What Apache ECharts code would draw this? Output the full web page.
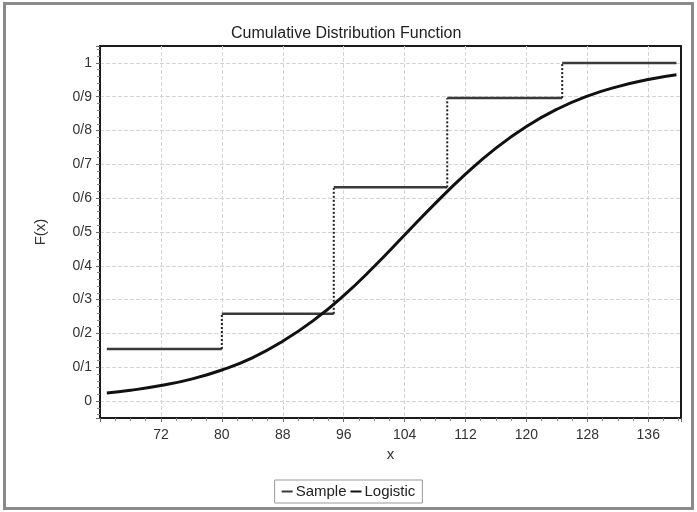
<!DOCTYPE html>
<html>
<head>
<meta charset="utf-8">
<script src="https://cdn.jsdelivr.net/npm/echarts@6/dist/echarts.min.js"></script>
<style>
  html, body { margin: 0; padding: 0; background: #fff; }
  #chart { position: absolute; left: 0; top: 0; width: 697px; height: 512px; }
  #frame { position: absolute; left: 3px; top: 2px; width: 691px; height: 508px;
    box-sizing: border-box; border: 3px solid #8a8a8a; pointer-events: none; }
</style>
</head>
<body>
<div id="chart"></div>
<div id="frame"></div>
<script>
// empirical step function (sample CDF)
var stepX = [64.9, 80, 94.7, 109.6, 124.7, 139.7];
var stepY = [0.154, 0.258, 0.632, 0.896, 1.0];

// logistic CDF
var curveX = [64.9, 68, 72, 76, 80, 84, 88, 92, 96, 100, 104, 108, 112, 116, 120, 124, 128, 132, 136, 139.7];
var curveY = [0.024, 0.032, 0.046, 0.065, 0.092, 0.128, 0.177, 0.238, 0.312, 0.398, 0.491, 0.584, 0.671, 0.748, 0.812, 0.863, 0.902, 0.930, 0.951, 0.965];

var xTicks = [72, 80, 88, 96, 104, 112, 120, 128, 136];

var series = [];

for (var i = 0; i < stepY.length; i++) {
  series.push({
    name: 'Sample',
    type: 'line',
    symbol: 'none',
    silent: true,
    itemStyle: { color: '#3a3a3a' },
    lineStyle: { color: '#3a3a3a', width: 2.5 },
    data: [[stepX[i], stepY[i]], [stepX[i + 1], stepY[i]]]
  });
  if (i < stepY.length - 1) {
    series.push({
      name: 'jump',
      type: 'line',
      symbol: 'none',
      silent: true,
      lineStyle: { color: '#222', width: 2, type: [2, 2] },
      data: [[stepX[i + 1], stepY[i]], [stepX[i + 1], stepY[i + 1]]]
    });
  }
}

series.push({
  name: 'Logistic',
  type: 'line',
  symbol: 'none',
  smooth: true,
  itemStyle: { color: '#111' },
  lineStyle: { color: '#111', width: 3 },
  data: curveX.map(function (x, k) { return [x, curveY[k]]; })
});

var chart = echarts.init(document.getElementById('chart'));
chart.setOption({
  animation: false,
  textStyle: { fontFamily: 'Liberation Sans, Arial, sans-serif' },
  title: {
    text: 'Cumulative Distribution Function',
    left: 226,
    top: 21,
    textStyle: { fontSize: 16, fontWeight: 'normal', color: '#222' }
  },
  legend: {
    data: ['Sample', 'Logistic'],
    bottom: 9,
    left: 'center',
    icon: 'rect',
    itemWidth: 11,
    itemHeight: 2,
    itemGap: 4,
    padding: [4, 7],
    borderColor: '#999',
    borderWidth: 1,
    borderRadius: 0,
    textStyle: { fontSize: 15, color: '#222', padding: [0, 0, 0, -2] }
  },
  grid: {
    left: 100,
    right: 16,
    top: 46,
    bottom: 94,
    show: true,
    borderColor: '#1a1a1a',
    borderWidth: 2
  },
  xAxis: {
    type: 'value',
    min: 64,
    max: 140.3,
    interval: 8,
    name: 'x',
    nameLocation: 'middle',
    nameGap: 28,
    nameTextStyle: { fontSize: 15, color: '#333' },
    axisLine: { show: true, onZero: false, lineStyle: { color: '#1a1a1a', width: 2 } },
    axisTick: { show: true, length: 4, lineStyle: { color: '#666' } },
    minorTick: { show: true, splitNumber: 4, length: 3, lineStyle: { color: '#888' } },
    axisLabel: {
      fontSize: 14, color: '#333', margin: 10,
      formatter: function (v) { return xTicks.indexOf(v) >= 0 ? String(v) : ''; }
    },
    splitLine: {
      show: true, showMinLine: false, showMaxLine: false,
      lineStyle: { color: '#d4d4d4', type: 'dashed', width: 1 }
    }
  },
  yAxis: {
    type: 'value',
    min: -0.05,
    max: 1.05,
    splitNumber: 11,
    name: 'F(x)',
    nameLocation: 'middle',
    nameGap: 52,
    nameTextStyle: { fontSize: 15, color: '#333' },
    axisLine: { show: true, onZero: false, lineStyle: { color: '#1a1a1a', width: 2 } },
    axisTick: { show: true, length: 4, lineStyle: { color: '#666' } },
    minorTick: { show: true, splitNumber: 5, length: 3, lineStyle: { color: '#888' } },
    axisLabel: {
      fontSize: 14, color: '#333', margin: 8,
      formatter: function (v) {
        var n = Math.round(v * 100);
        if (n % 10 !== 0 || n < 0 || n > 100) return '';
        if (n === 0) return '0';
        if (n === 100) return '1';
        return '0/' + (n / 10);
      }
    },
    splitLine: {
      show: true, showMinLine: false, showMaxLine: false,
      lineStyle: { color: '#d4d4d4', type: 'dashed', width: 1 }
    }
  },
  series: series
});
</script>
</body>
</html>
